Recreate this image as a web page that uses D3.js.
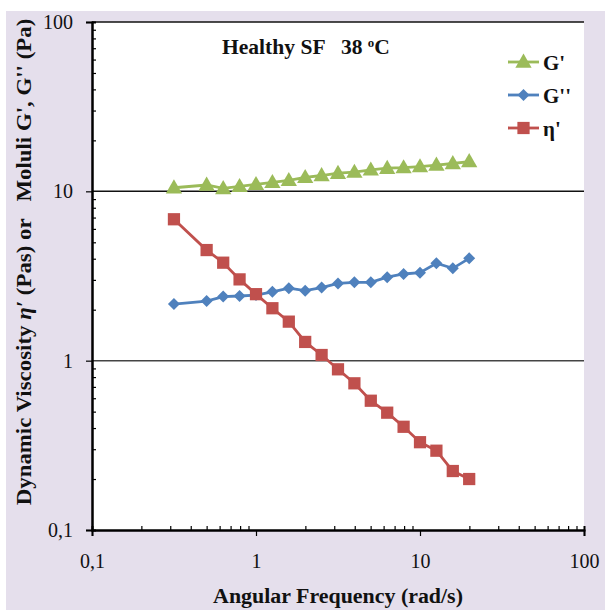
<!DOCTYPE html>
<html><head><meta charset="utf-8">
<script src="https://cdn.jsdelivr.net/npm/d3@7"></script>
<style>body{margin:0;background:#fff}svg{display:block}text{font-family:"Liberation Serif","Times New Roman",serif;white-space:pre}</style>
</head><body><div id="c"></div>
<script>
const freq = [0.316, 0.5, 0.631, 0.794, 1, 1.259, 1.585, 1.995, 2.512, 3.162, 3.981, 5.012, 6.31, 7.943, 10, 12.59, 15.85, 19.95];
const gPrime = [10.5, 10.9, 10.4, 10.7, 11.0, 11.3, 11.6, 12.1, 12.4, 12.8, 13.0, 13.4, 13.7, 13.8, 14.0, 14.3, 14.6, 15.0];
const gDouble = [2.16, 2.25, 2.39, 2.41, 2.44, 2.55, 2.68, 2.59, 2.70, 2.86, 2.90, 2.90, 3.11, 3.25, 3.31, 3.76, 3.51, 4.02];
const etaPrime = [6.84, 4.50, 3.79, 3.02, 2.47, 2.04, 1.70, 1.29, 1.08, 0.889, 0.735, 0.580, 0.493, 0.407, 0.330, 0.294, 0.223, 0.200];
const seriesNames = ["G'", "G''", "η'"];
const xTickLabels = ["0,1", "1", "10", "100"];
const yTickLabels = ["0,1", "1", "10", "100"];
const majorVals = [0.1, 1, 10, 100];

const W = 605, H = 610;
const svg = d3.select("#c").append("svg").attr("width", W).attr("height", H);
svg.append("rect").attr("x", 6).attr("y", 11).attr("width", W - 6).attr("height", H - 11).attr("fill", "#e5dfec");

const L = 92, R = 584, T = 22, B = 530;
const x = d3.scaleLog().domain([0.1, 100]).range([L, R]);
const y = d3.scaleLog().domain([0.1, 100]).range([B, T]);

svg.append("rect").attr("x", L).attr("y", T).attr("width", R - L).attr("height", B - T).attr("fill", "#fff");

const minors = [];
for (const d of [0.1, 1, 10]) for (let k = 2; k <= 9; k++) minors.push(d * k);

// gridlines
svg.append("g").selectAll("line").data([1, 10, 100]).join("line")
  .attr("x1", L).attr("x2", R).attr("y1", d => y(d)).attr("y2", d => y(d))
  .attr("stroke", d => d === 1 ? "#444" : "#111").attr("stroke-width", 1.5);

// Y axis
const yAxisG = svg.append("g").attr("transform", `translate(${L},0)`);
yAxisG.call(d3.axisLeft(y).tickValues(majorVals).tickSize(6).tickFormat((d, i) => yTickLabels[i]));
yAxisG.append("g").call(d3.axisRight(y).tickValues(minors).tickSize(4).tickFormat(""));
yAxisG.selectAll(".domain").attr("stroke", "#000").attr("stroke-width", 2);
yAxisG.selectAll(".tick line").attr("stroke", "#000").attr("stroke-width", 1.2);
yAxisG.selectAll("text").attr("font-size", 20).attr("fill", "#111").attr("x", -19).attr("font-family", "Liberation Serif, serif");

// X axis
const xAxisG = svg.append("g").attr("transform", `translate(0,${B})`);
xAxisG.call(d3.axisBottom(x).tickValues(majorVals).tickSize(6).tickFormat((d, i) => xTickLabels[i]));
xAxisG.append("g").call(d3.axisTop(x).tickValues(minors).tickSize(4).tickFormat(""));
xAxisG.selectAll(".domain").attr("stroke", "#000").attr("stroke-width", 2);
xAxisG.selectAll(".tick line").attr("stroke", "#000").attr("stroke-width", 1.2);
xAxisG.selectAll("text").attr("font-size", 20).attr("fill", "#111").attr("y", 24).attr("font-family", "Liberation Serif, serif");

const colors = ["#9bbb59", "#4f81bd", "#c0504d"];
const datas = [gPrime, gDouble, etaPrime];
const line = d3.line().x(d => x(d[0])).y(d => y(d[1]));

function symbolPath(i) {
  if (i === 1) return "M0,-6L6,0L0,6L-6,0Z";
  if (i === 0) return d3.symbol().type(d3.symbolTriangle).size(115)();
  return d3.symbol().type(d3.symbolSquare).size(150)();
}

datas.forEach((vals, i) => {
  const pts = freq.map((f, j) => [f, vals[j]]);
  const g = svg.append("g");
  g.append("path").attr("d", line(pts)).attr("fill", "none").attr("stroke", colors[i]).attr("stroke-width", 2.8);
  g.selectAll("path.m").data(pts).join("path").attr("class", "m")
    .attr("transform", d => `translate(${x(d[0])},${y(d[1]) + (i === 0 ? 1 : 0)})`)
    .attr("d", symbolPath(i)).attr("fill", colors[i]);
});

// fit helper: scale text horizontally (in its own frame) to a target width
function fit(sel, target) {
  const w = sel.node().getComputedTextLength();
  return target / w;
}

// Legend
const legY = [62, 95, 128];
seriesNames.forEach((n, i) => {
  const g = svg.append("g").attr("transform", `translate(508,${legY[i]})`);
  g.append("line").attr("x1", 0).attr("x2", 31).attr("stroke", colors[i]).attr("stroke-width", 2.8);
  g.append("path").attr("transform", `translate(15.5,${i === 0 ? 1 : 0})`).attr("d", symbolPath(i)).attr("fill", colors[i]);
  g.append("text").attr("x", 35).attr("y", 8).attr("font-size", 21).attr("font-weight", "bold").attr("fill", "#111").text(n);
});

// Title
const t = svg.append("text").attr("font-size", 20).attr("font-weight", "bold").attr("fill", "#111");
t.append("tspan").text("Healthy SF   38 ");
t.append("tspan").attr("font-size", 12).attr("dy", -7).text("o");
t.append("tspan").attr("dy", 7).text("C");
t.attr("transform", `translate(222,54) scale(${fit(t, 168)},1)`);

// X label
const xl = svg.append("text").attr("text-anchor", "middle").attr("font-size", 20).attr("font-weight", "bold").attr("fill", "#111").text("Angular Frequency (rad/s)");
xl.attr("transform", `translate(338,603) scale(${fit(xl, 250)},1)`);

// Y label
const yl = svg.append("text").attr("text-anchor", "middle").attr("font-size", 20).attr("font-weight", "bold").attr("fill", "#111");
yl.append("tspan").text("Dynamic Viscosity ");
yl.append("tspan").attr("font-style", "italic").text("η′");
yl.append("tspan").text(" (Pas) or   Moluli G', G'' (Pa)");
yl.attr("transform", `translate(31,262) rotate(-90) scale(${fit(yl, 487)},1)`);
</script></body></html>
